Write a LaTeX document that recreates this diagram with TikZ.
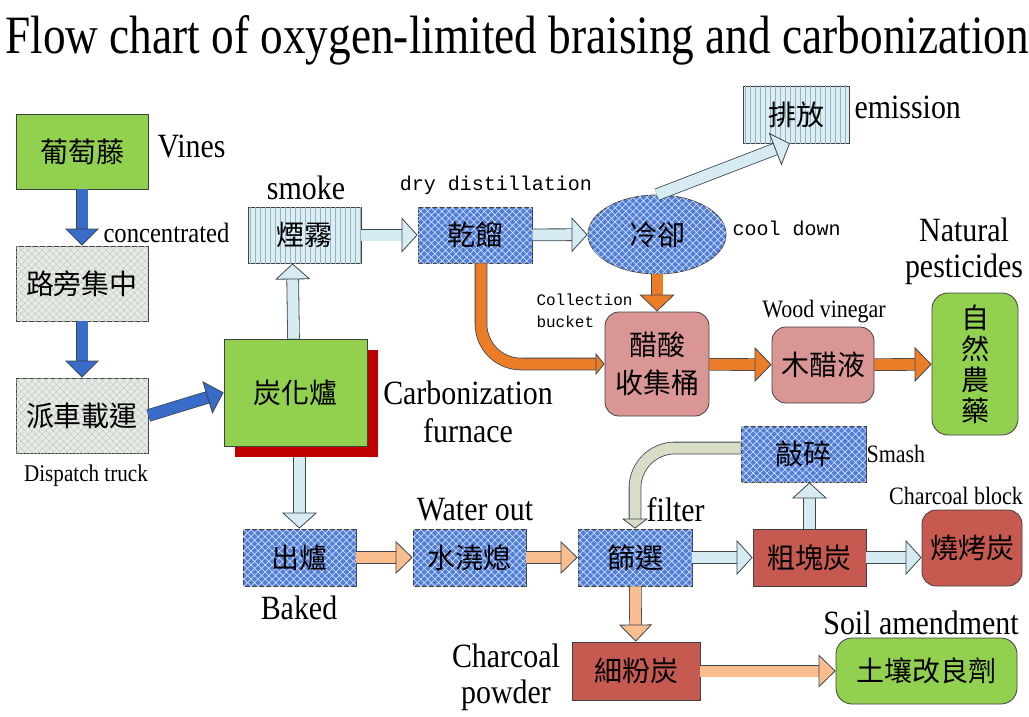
\documentclass[tikz,border=0pt]{standalone}
\usepackage{graphicx}
\usepackage{fontspec}
\setmainfont[FakeStretch=0.88]{Liberation Serif}
\setmonofont{Liberation Mono}
\newfontfamily\cjk{Noto Sans CJK TC}
\usetikzlibrary{arrows.meta,shapes.geometric,shadows,patterns.meta}

\definecolor{boxblue}{RGB}{80,126,216}
\definecolor{hatchblue}{RGB}{206,220,246}
\definecolor{boxgray}{RGB}{230,235,228}
\definecolor{hatchgray}{RGB}{196,202,198}
\definecolor{boxsky}{RGB}{218,238,243}
\definecolor{linesky}{RGB}{150,178,195}
\definecolor{boxgreen}{RGB}{146,208,80}
\definecolor{boxred}{RGB}{198,90,80}
\definecolor{boxpink}{RGB}{217,150,148}
\definecolor{shadowred}{RGB}{192,0,0}
\definecolor{arrblue}{RGB}{56,108,200}
\definecolor{arrorange}{RGB}{236,125,40}
\definecolor{arrpeach}{RGB}{250,190,142}
\definecolor{arrsky}{RGB}{214,236,242}
\definecolor{arrsage}{RGB}{216,221,200}
\definecolor{arrline}{RGB}{60,70,80}
\definecolor{boxline}{RGB}{64,64,64}

\tikzset{
  box/.style={draw=boxline, line width=.8pt, inner sep=0pt,
    font=\cjk\fontsize{28}{30}\selectfont},
  bluebox/.style={box, fill=boxblue,
    postaction={pattern={Hatch[angle=45,distance=5pt,line width=.7pt]}, pattern color=hatchblue}},
  graybox/.style={box, fill=boxgray,
    postaction={pattern={Hatch[angle=45,distance=5pt,line width=.5pt]}, pattern color=hatchgray}},
  skybox/.style={box, fill=boxsky,
    postaction={pattern={Lines[angle=90,distance=5pt,line width=.5pt]}, pattern color=linesky}},
  greenbox/.style={box, fill=boxgreen},
  redbox/.style={box, fill=boxred},
  pinkbox/.style={box, fill=boxpink, rounded corners=14pt},
  biglabel/.style={font=\fontsize{34}{36}\selectfont},
  smalllabel/.style={font=\fontsize{25}{27}\selectfont},
  monolabel/.style={font=\ttfamily\fontsize{20}{22}\selectfont},
  fat/.style n args={4}{draw=#1, line width=11pt,
    preaction={draw=arrline, line width=12.6pt, -, shorten >=#4-1pt},
    -{Triangle[width=#2, length=#3, line width=.8pt, fill=#1, color=arrline]}},
  bluearrow/.style={fat={arrblue}{34pt}{17pt}{17pt}},
  skyarrow/.style={fat={arrsky}{35pt}{16pt}{16pt}},
  orangearrow/.style={fat={arrorange}{35pt}{17pt}{17pt}},
  peacharrow/.style={fat={arrpeach}{33pt}{17pt}{17pt}},
}

\begin{document}
\begin{tikzpicture}[x=1pt,y=-1pt]
  \useasboundingbox (0,0) rectangle (1029,717);
  \node[anchor=base west] (title) at (2,53)
    {\resizebox{1023pt}{38pt}{Flow chart of oxygen-limited braising and carbonization}};

  % left column
  \node[greenbox, minimum width=132pt, minimum height=75pt] (vines) at (82,151.5) {葡萄藤};
  \node[graybox, minimum width=132pt, minimum height=75pt] (gather) at (82,283.5) {路旁集中};
  \node[graybox, minimum width=132pt, minimum height=75pt] (truck) at (82,415.5) {派車載運};
  \node[biglabel, anchor=west] (lblvines) at (154,147) {Vines};
  \node[font=\fontsize{28}{30}\selectfont, anchor=west] (lblgather) at (100,233) {concentrated};
  \node[font=\fontsize{24}{26}\selectfont] (lbltruck) at (86,476) {Dispatch truck};

  % furnace and smoke
  \node[greenbox, minimum width=143pt, minimum height=107pt,
        drop shadow={shadow xshift=11pt, shadow yshift=-11pt, fill=shadowred, opacity=1}]
        (furnace) at (295.5,392.5) {炭化爐};
  \node[biglabel, align=center] (lblfurnace) at (468,412) {Carbonization\\[2pt]furnace};
  \node[skybox, minimum width=113pt, minimum height=56pt] (smoke) at (304.5,235) {煙霧};
  \node[biglabel] (lblsmoke) at (306,188) {smoke};

  % distillation branch
  \node[bluebox, minimum width=114pt, minimum height=56pt] (dry) at (475,235) {乾餾};
  \node[monolabel] (lbldry) at (496,185) {dry distillation};
  \node[bluebox, ellipse, minimum width=138pt, minimum height=79pt] (cool) at (657,234.5) {冷卻};
  \node[monolabel, anchor=west] (lblcool) at (729,228) {cool down};
  \node[skybox, minimum width=106pt, minimum height=57pt] (emit) at (796,114.5) {排放};
  \node[biglabel, anchor=west] (lblemit) at (851,107) {emission};
  \node[pinkbox, minimum width=104pt, minimum height=104pt, align=center,
        font=\cjk\fontsize{28}{38}\selectfont] (bucket) at (657,364) {醋酸\\收集桶};
  \node[font=\ttfamily\fontsize{16}{22}\selectfont, align=left, anchor=west]
        (lblbucket) at (533,311) {Collection\\bucket};
  \node[pinkbox, minimum width=102pt, minimum height=76pt] (vinegar) at (823,365) {木醋液};
  \node[smalllabel] (lblvinegar) at (824,312) {Wood vinegar};
  \node[greenbox, rounded corners=16pt, minimum width=86pt, minimum height=142pt, align=center,
        font=\cjk\fontsize{28}{31}\selectfont] (pest) at (975,364) {自\\然\\農\\藥};
  \node[biglabel, align=center] (lblpest) at (964,251) {Natural\\pesticides};

  % charcoal branch
  \node[bluebox, minimum width=113pt, minimum height=57pt] (baked) at (299.5,557.5) {出爐};
  \node[biglabel] (lblbaked) at (299,608) {Baked};
  \node[bluebox, minimum width=113pt, minimum height=57pt] (quench) at (469.5,557.5) {水澆熄};
  \node[biglabel] (lblquench) at (475,510) {Water out};
  \node[bluebox, minimum width=114pt, minimum height=57pt] (sieve) at (635,557.5) {篩選};
  \node[biglabel, anchor=west] (lblsieve) at (643,510) {filter};
  \node[redbox, minimum width=113pt, minimum height=57pt] (lump) at (809.5,557.5) {粗塊炭};
  \node[bluebox, minimum width=125pt, minimum height=56pt] (smash) at (803.5,454) {敲碎};
  \node[smalllabel, anchor=west] (lblsmash) at (863,454) {Smash};
  \node[redbox, rounded corners=14pt, minimum width=100pt, minimum height=76pt] (bbq) at (972,548) {燒烤炭};
  \node[smalllabel] (lblbbq) at (956,496) {Charcoal block};
  \node[redbox, minimum width=128pt, minimum height=58pt] (powder) at (636,671) {細粉炭};
  \node[biglabel, align=center] (lblpowder) at (506,677) {Charcoal\\powder};
  \node[greenbox, rounded corners=16pt, minimum width=181pt, minimum height=66pt] (soil) at (926.5,671) {土壤改良劑};
  \node[biglabel] (lblsoil) at (921,623) {Soil amendment};

  \coordinate (furnacefoot) at ([yshift=-11pt]furnace.south);

  \draw[bluearrow] (vines) -- (gather);
  \draw[bluearrow] (gather) -- (truck);
  \draw[bluearrow] (truck.east) -- (furnace.west);
  \draw[skyarrow] ([xshift=-2pt]furnace.north) -- ([xshift=-12pt]smoke.south);
  \draw[skyarrow] (smoke) -- (dry);
  \draw[skyarrow] (dry) -- (cool);
  \draw[skyarrow] (cool.north) -- ([xshift=-6pt]emit.south);
  \draw[orangearrow] (cool) -- (bucket);
  \draw[fat={arrorange}{22pt}{9pt}{9pt}, rounded corners=40pt]
       ([xshift=6pt]dry.south) |- (bucket.west);
  \draw[orangearrow] (bucket) -- (vinegar);
  \draw[orangearrow] (vinegar) -- (pest);
  \draw[skyarrow] (furnacefoot -| baked.north) -- (baked.north);
  \draw[peacharrow] (baked) -- (quench);
  \draw[peacharrow] (quench) -- (sieve);
  \draw[skyarrow] (sieve) -- (lump);
  \draw[skyarrow] (lump) -- (lump -| bbq.west);
  \draw[skyarrow] (lump.north) -- (lump.north |- smash.south);
  \draw[fat={arrsage}{26pt}{10pt}{10pt}, rounded corners=40pt]
       ([yshift=6pt]smash.west) -| (sieve.north);
  \draw[peacharrow] (sieve) -- (powder);
  \draw[peacharrow] (powder) -- (soil);
\end{tikzpicture}
\end{document}
